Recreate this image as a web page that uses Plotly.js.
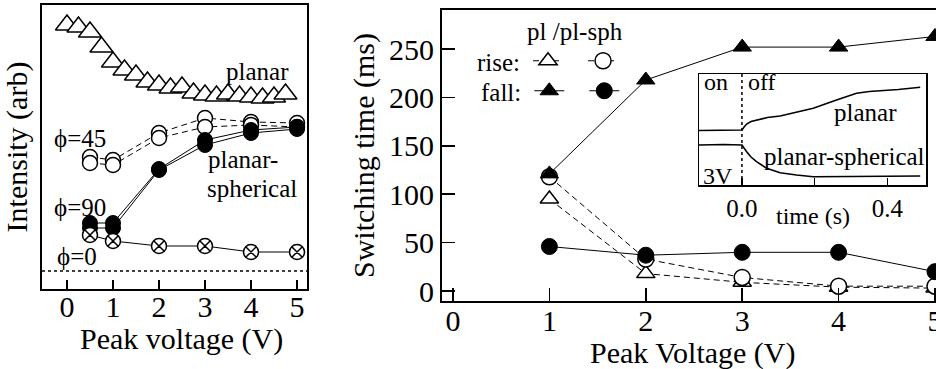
<!DOCTYPE html>
<html><head><meta charset="utf-8">
<script src="https://cdn.plot.ly/plotly-3.0.1.min.js"></script>
<style>
html,body{margin:0;padding:0;overflow:hidden;background:#fff}
#chart{width:960px;height:369px}
</style>
</head><body>
<div id="chart"></div>
<script>
// ---------- Left panel: intensity vs peak voltage ----------
const planarVoltage = [0,0.25,0.5,0.75,1,1.25,1.5,1.75,2,2.25,2.5,2.75,3,3.25,3.5,3.75,4,4.25,4.5,4.75];
const planarIntensity = [264,262,257,242,227,219,214,207,204,201,202,196,194,193,195,193,192,191,192,195];
const sphVoltage = [0.5,1,2,3,4,5];
const phi45IntensityA = [132,129,156,171,167,166];
const phi45IntensityB = [126,124,151,162,164,162];
const phi90IntensityA = [66,66,120,149,159,162];
const phi90IntensityB = [61,61,119,144,156,160];
const phi0Intensity = [54,48,43,43,37,37];
const intensityBaseline = 18;
const leftTicks = [0,1,2,3,4,5];

// ---------- Right panel: switching time ----------
const switchVoltage = [1,2,3,4,5];
const plRise = [95,18,9,4,3];
const plSphRise = [118,33,14,5,5];
const plFall = [121,218,252,252,263];
const plSphFall = [46,37,40,40,20];
const rightXTicks = [0,1,2,3,4,5];
const rightYTicks = [0,50,100,150,200,250];

// ---------- Inset: transient signals at 3V ----------
const insetTimePlanar = [-0.118,-0.05,0,0.006,0.013,0.025,0.04,0.07,0.105,0.15,0.196,0.26,0.315,0.35,0.38,0.43,0.49];
const insetPlanar = [54.5,55,55,58,61,63.5,65,67.5,69,73,76.7,85,91.7,93.5,94,95.5,97.7];
const insetTimeSph = [-0.118,-0.05,0,0.006,0.013,0.025,0.04,0.068,0.105,0.15,0.196,0.3,0.49];
const insetSph = [40,40.5,40,36.5,33.3,28,23.3,16.7,12.3,10,8.3,8.5,9];
const insetTickVals = [0,0.2,0.4];
const insetTickText = ['0.0','','0.4'];

const W = 960, H = 369;
const FONT = 'Liberation Serif';
const px = x => x / W;
const py = y => 1 - y / H;
const blk = 'black';
const F = size => ({family: FONT, size: size, color: blk});

const openM = (sym, size) => ({symbol: sym, size: size, color: 'white', line: {color: blk, width: 1.5}});
const fillM = (sym, size) => ({symbol: sym, size: size, color: blk, line: {color: blk, width: 1}});

const traces = [
  {x: planarVoltage, y: planarIntensity, xaxis: 'x', yaxis: 'y', mode: 'markers',
   marker: openM('triangle-up', 20), showlegend: false},
  {x: sphVoltage, y: phi45IntensityA, xaxis: 'x', yaxis: 'y', mode: 'lines+markers',
   line: {color: blk, width: 1, dash: '6px,4px'}, marker: openM('circle', 15), showlegend: false},
  {x: sphVoltage, y: phi45IntensityB, xaxis: 'x', yaxis: 'y', mode: 'lines+markers',
   line: {color: blk, width: 1, dash: '6px,4px'}, marker: openM('circle', 15), showlegend: false},
  {x: sphVoltage, y: phi90IntensityA, xaxis: 'x', yaxis: 'y', mode: 'lines+markers',
   line: {color: blk, width: 1}, marker: fillM('circle', 15), showlegend: false},
  {x: sphVoltage, y: phi90IntensityB, xaxis: 'x', yaxis: 'y', mode: 'lines+markers',
   line: {color: blk, width: 1}, marker: fillM('circle', 15), showlegend: false},
  {x: sphVoltage, y: phi0Intensity, xaxis: 'x', yaxis: 'y', mode: 'lines+markers',
   line: {color: blk, width: 1}, marker: openM('circle-x', 15), showlegend: false},
  {x: switchVoltage, y: plRise, xaxis: 'x2', yaxis: 'y2', mode: 'lines+markers', name: '',
   line: {color: blk, width: 1, dash: '6px,4px'}, marker: openM('triangle-up', 16), legend: 'legend'},
  {x: switchVoltage, y: plSphRise, xaxis: 'x2', yaxis: 'y2', mode: 'lines+markers', name: '',
   line: {color: blk, width: 1, dash: '6px,4px'}, marker: openM('circle', 16), legend: 'legend'},
  {x: switchVoltage, y: plFall, xaxis: 'x2', yaxis: 'y2', mode: 'lines+markers', name: '',
   line: {color: blk, width: 1}, marker: fillM('triangle-up', 16), legend: 'legend2'},
  {x: switchVoltage, y: plSphFall, xaxis: 'x2', yaxis: 'y2', mode: 'lines+markers', name: '',
   line: {color: blk, width: 1}, marker: fillM('circle', 16), legend: 'legend2'},
  {x: insetTimePlanar, y: insetPlanar, xaxis: 'x3', yaxis: 'y3', mode: 'lines',
   line: {color: blk, width: 1.6}, showlegend: false},
  {x: insetTimeSph, y: insetSph, xaxis: 'x3', yaxis: 'y3', mode: 'lines',
   line: {color: blk, width: 1.6}, showlegend: false}
];

const axBase = {showline: true, linecolor: blk, mirror: true, showgrid: false, zeroline: false,
  tickcolor: blk, tickfont: F(30)};

const ann = (text, x, y, size, xanchor) => ({text: text, x: px(x), y: py(y), xref: 'paper', yref: 'paper',
  showarrow: false, xanchor: xanchor || 'center', yanchor: 'middle', font: F(size)});

const legBase = {orientation: 'h', bgcolor: 'rgba(0,0,0,0)', borderwidth: 0, xref: 'paper', yref: 'paper',
  xanchor: 'left', yanchor: 'middle', font: F(25), itemwidth: 30, entrywidth: 10, tracegroupgap: 0};

const layout = {
  width: W, height: H, margin: {l: 0, r: 0, t: 0, b: 0},
  paper_bgcolor: 'white', plot_bgcolor: 'white',
  xaxis: Object.assign({}, axBase, {domain: [px(42), px(307)], range: [-0.543, 5.217], anchor: 'y',
    tickvals: leftTicks, ticks: 'inside', ticklen: 9, tickwidth: 1.5, linewidth: 2, ticklabelstandoff: -10}),
  yaxis: Object.assign({}, axBase, {domain: [py(289), py(5)], range: [0, 284], anchor: 'x',
    showticklabels: false, ticks: '', linewidth: 2,
    title: {text: 'Intensity (arb)', font: F(30), standoff: 6}}),
  xaxis2: Object.assign({}, axBase, {domain: [px(442), px(946)], range: [-0.1141, 5.114], anchor: 'y2',
    tickvals: rightXTicks, ticks: 'inside', ticklen: 13, tickwidth: 1.5, linewidth: 2, ticklabelstandoff: -8}),
  yaxis2: Object.assign({}, axBase, {domain: [py(301), py(10)], range: [-10.3, 290.3], anchor: 'x2',
    tickvals: rightYTicks, ticks: 'inside', ticklen: 13, tickwidth: 1.5, linewidth: 2,
    title: {text: 'Switching time (ms)', font: F(30), standoff: 6}}),
  xaxis3: Object.assign({}, axBase, {domain: [px(699), px(926)], range: [-0.118, 0.506], anchor: 'y3',
    tickvals: insetTickVals, ticktext: insetTickText, ticks: 'inside', ticklen: 7, tickwidth: 1.2,
    linewidth: 1.5, tickfont: F(25)}),
  yaxis3: Object.assign({}, axBase, {domain: [py(185), py(74)], range: [0, 111], anchor: 'x3',
    showticklabels: false, ticks: '', linewidth: 1.5}),
  shapes: [
    {type: 'line', xref: 'x domain', yref: 'y', x0: 0, x1: 1, y0: intensityBaseline, y1: intensityBaseline,
     line: {color: blk, width: 1.5, dash: 'dot'}},
    {type: 'line', xref: 'x3', yref: 'y3 domain', x0: 0, x1: 0, y0: 0, y1: 1,
     line: {color: blk, width: 1.5, dash: 'dot'}}
  ],
  annotations: [
    ann('Peak voltage (V)', 181, 339, 30),
    ann('Peak Voltage (V)', 693, 353, 30),
    ann('planar', 257, 71, 25),
    ann('planar-', 206, 159, 25, 'left'),
    ann('spherical', 205, 188, 25, 'left'),
    ann('ϕ=45', 52, 139, 25, 'left'),
    ann('ϕ=90', 52, 207, 25, 'left'),
    ann('ϕ=0', 55, 256, 25, 'left'),
    ann('pl /pl-sph', 575, 31, 25),
    ann('on', 702, 82, 24, 'left'),
    ann('off', 746, 82, 24, 'left'),
    ann('planar', 865, 112, 25),
    ann('planar-spherical', 927, 156, 25, 'right'),
    ann('3V', 701, 176, 24, 'left'),
    ann('time (s)', 813, 216, 24)
  ],
  legend: Object.assign({}, legBase, {x: px(475), y: py(61), title: {text: 'rise:', side: 'left', font: F(25)}}),
  legend2: Object.assign({}, legBase, {x: px(479), y: py(91), title: {text: 'fall:', side: 'left', font: F(25)}})
};

Plotly.newPlot('chart', traces, layout, {displayModeBar: false, staticPlot: true});
</script>
</body></html>
